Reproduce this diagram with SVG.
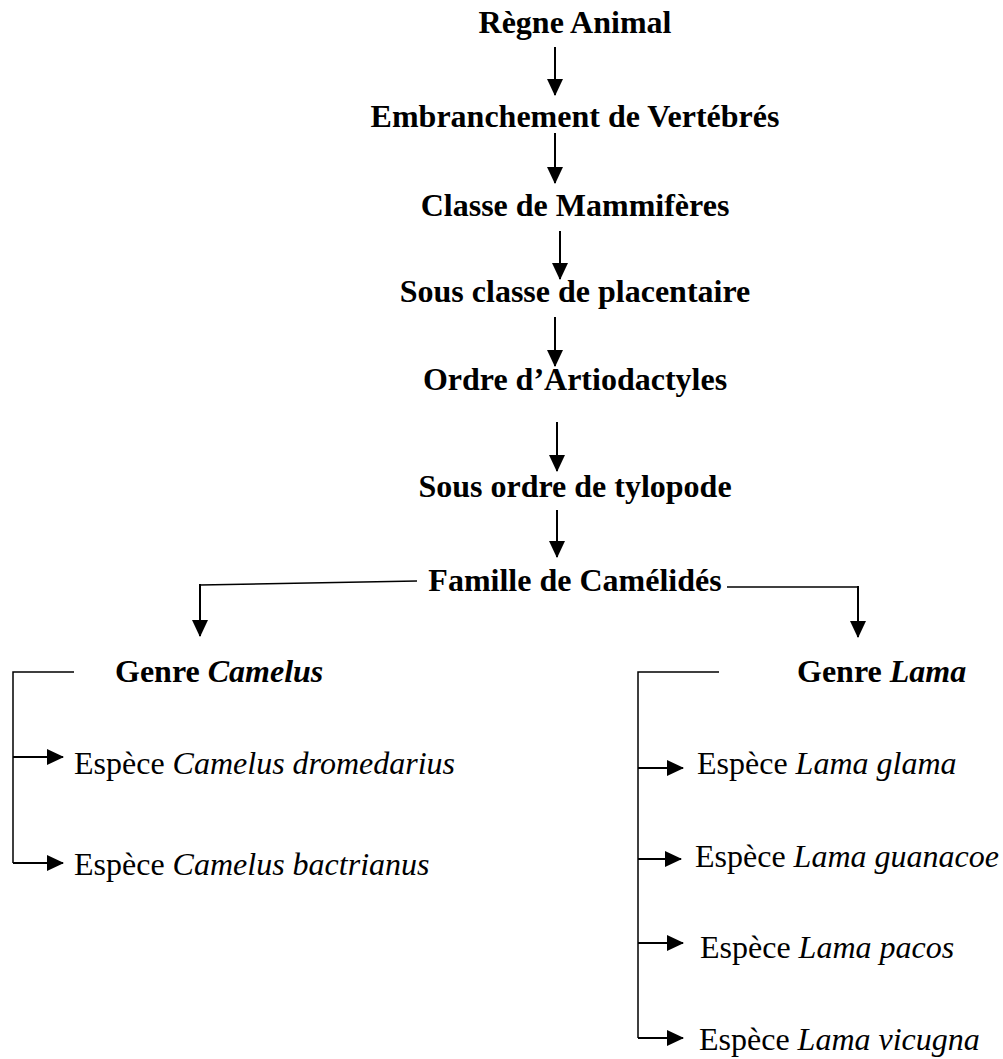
<svg xmlns="http://www.w3.org/2000/svg" width="1003" height="1059" viewBox="0 0 1003 1059">
<defs>
<marker id="ah" markerUnits="userSpaceOnUse" viewBox="0 0 17 16" markerWidth="17" markerHeight="16" refX="16" refY="8" orient="auto">
<path d="M0,0 L17,8 L0,16 Z" fill="#000"/>
</marker>
<style>
text{font-family:"Liberation Serif","Times New Roman",serif;font-size:32px;fill:#000}
.b{font-weight:bold}
.c{text-anchor:middle}
.i{font-style:italic}
.arr{stroke:#000;stroke-width:2;fill:none;marker-end:url(#ah)}
.ln{stroke:#000;stroke-width:1.5;fill:none}
</style>
</defs>
<rect width="1003" height="1059" fill="#fff"/>
<g id="n-regne"><text class="b c" x="575" y="33">Règne Animal</text></g>
<g id="n-embr"><text class="b c" x="575" y="127">Embranchement de Vertébrés</text></g>
<g id="n-classe"><text class="b c" x="575" y="216">Classe de Mammifères</text></g>
<g id="n-sousclasse"><text class="b c" x="575" y="302">Sous classe de placentaire</text></g>
<g id="n-ordre"><text class="b c" x="575" y="390">Ordre d’Artiodactyles</text></g>
<g id="n-sousordre"><text class="b c" x="575" y="497">Sous ordre de tylopode</text></g>
<g id="n-famille"><text class="b c" x="575" y="591">Famille de Camélidés</text></g>
<g id="n-camelus"><text class="b" x="115" y="682">Genre <tspan class="i">Camelus</tspan></text></g>
<g id="n-lama"><text class="b" x="797" y="682">Genre <tspan class="i">Lama</tspan></text></g>
<g id="n-dromedarius"><text x="74" y="774">Espèce <tspan class="i">Camelus dromedarius</tspan></text></g>
<g id="n-bactrianus"><text x="74" y="875">Espèce <tspan class="i">Camelus bactrianus</tspan></text></g>
<g id="n-glama"><text x="697" y="774">Espèce <tspan class="i">Lama glama</tspan></text></g>
<g id="n-guanacoe"><text x="695" y="867">Espèce <tspan class="i">Lama guanacoe</tspan></text></g>
<g id="n-pacos"><text x="700" y="958">Espèce <tspan class="i">Lama pacos</tspan></text></g>
<g id="n-vicugna"><text x="699" y="1050">Espèce <tspan class="i">Lama vicugna</tspan></text></g>
<g id="connectors">
<line class="arr" x1="555" y1="47" x2="555" y2="95"/>
<line class="arr" x1="555" y1="133" x2="555" y2="183"/>
<line class="arr" x1="560" y1="231" x2="560" y2="279"/>
<line class="arr" x1="555" y1="317" x2="555" y2="366"/>
<line class="arr" x1="557" y1="422" x2="557" y2="471"/>
<line class="arr" x1="557" y1="510" x2="557" y2="557"/>
<line class="ln" x1="417" y1="581" x2="200" y2="585"/>
<line class="arr" x1="200" y1="584" x2="200" y2="636"/>
<line class="ln" x1="727" y1="587" x2="858" y2="587"/>
<line class="arr" x1="858" y1="586" x2="858" y2="637"/>
<polyline class="ln" points="74,672 13,672 13,863"/>
<line class="arr" x1="13" y1="757" x2="63" y2="757"/>
<line class="arr" x1="13" y1="863" x2="63" y2="863"/>
<polyline class="ln" points="719,672 638,672 638,1038"/>
<line class="arr" x1="638" y1="768" x2="683" y2="768"/>
<line class="arr" x1="638" y1="859" x2="681" y2="859"/>
<line class="arr" x1="638" y1="943" x2="683" y2="943"/>
<line class="arr" x1="638" y1="1038" x2="683" y2="1038"/>
</g>
</svg>
